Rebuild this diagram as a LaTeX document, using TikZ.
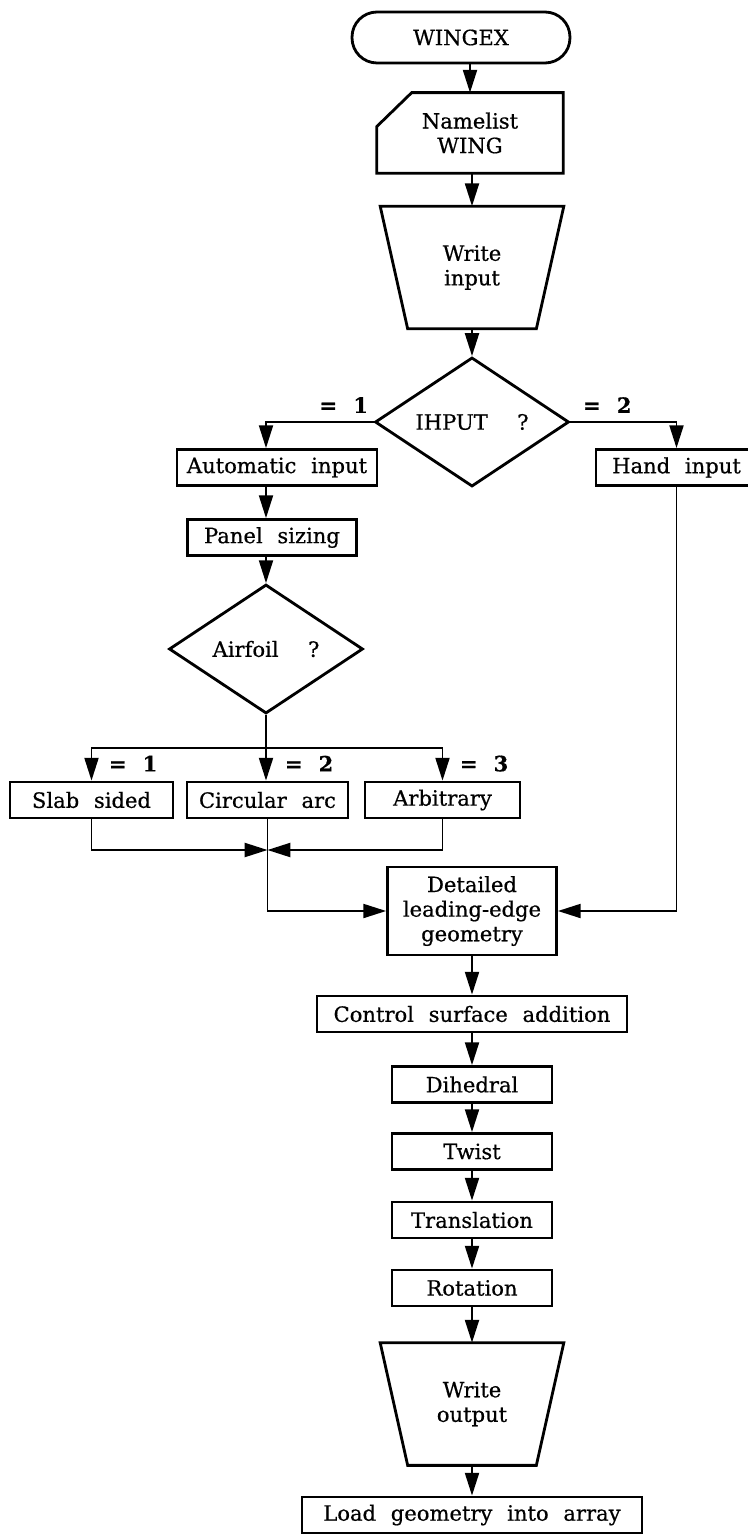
\documentclass[tikz,border=0pt]{standalone}
\usepackage{fontspec}
\setmainfont{DejaVu Serif}[WordSpace=2.2,FakeBold=0.6]
\usetikzlibrary{arrows.meta, positioning, calc, shapes.geometric}

\begin{document}
\begin{tikzpicture}[x=0.02cm,y=-0.02cm,font=\fontsize{12}{14}\selectfont,box/.style={draw,line width=1.6pt,minimum height=0.72cm,inner sep=2pt,align=center},decision/.style={draw,diamond,line width=1.6pt,minimum width=3.88cm,minimum height=2.58cm,inner sep=0pt},branch/.style={font=\fontsize{12}{14}\selectfont\bfseries,inner sep=0pt},arrow/.style={-{Triangle[length=13pt,width=8pt]},line width=1.1pt}]
\useasboundingbox (0,0) rectangle (747,1537);
\node[box,rounded corners=0.5cm,minimum width=4.36cm,minimum height=1.02cm] (wingex) at (461,37.5){WINGEX};
\node[minimum width=3.72cm,minimum height=1.6cm,align=center] (nl) at (470,133){Namelist\\WING};
\draw[line width=1.6pt] (nl.south west) -- ($(nl.north west)+(0,34)$) -- ($(nl.north west)+(35,0)$) -- (nl.north east) -- (nl.south east) -- cycle;
\node[minimum width=3.66cm,minimum height=2.44cm,align=center] (wi) at (472,267.5){Write\\input};
\draw[line width=1.6pt] (wi.north west) -- (wi.north east) -- ($(wi.south east)+(-27.5,0)$) -- ($(wi.south west)+(27.5,0)$) -- cycle;
\node[decision] (ihput) at (472,422){IHPUT\ \ ?};
\node[box,minimum width=4cm] (autoin) at (277,467.5){Automatic input};
\node[box,minimum width=3.22cm] (handin) at (676.5,467.5){Hand input};
\node[box,minimum width=3.38cm] (panel) at (272,537.5){Panel sizing};
\node[decision] (airfoil) at (266,649){Airfoil\ \ ?};
\node[box,minimum width=3.26cm] (slab) at (91.5,800){Slab sided};
\node[box,minimum width=3.22cm] (circ) at (267.5,800){Circular arc};
\node[box,minimum width=3.1cm] (arb) at (442.5,800){Arbitrary};
\node[box,minimum width=3.38cm,minimum height=1.76cm] (detail) at (472,911){Detailed\\leading-edge\\geometry};
\node[box,minimum width=6.2cm] (ctrl) at (472,1014){Control surface addition};
\node[box,minimum width=3.2cm] (dihed) at (472,1084.5){Dihedral};
\node[box,minimum width=3.2cm] (twist) at (472,1151.5){Twist};
\node[box,minimum width=3.2cm] (transl) at (472,1220){Translation};
\node[box,minimum width=3.2cm] (rot) at (472,1288){Rotation};
\node[minimum width=3.66cm,minimum height=2.44cm,align=center] (wo) at (472,1404){Write\\output};
\draw[line width=1.6pt] (wo.north west) -- (wo.north east) -- ($(wo.south east)+(-27.5,0)$) -- ($(wo.south west)+(27.5,0)$) -- cycle;
\node[box,minimum width=6.8cm] (load) at (472,1515){Load geometry into array};
\node[branch,anchor=south east] (b1) at ([xshift=-3pt,yshift=5pt]ihput.west){= 1};
\node[branch,anchor=south west] (b2) at ([xshift=7pt,yshift=5pt]ihput.east){= 2};
\node[branch,anchor=west] (a1) at ($(slab.north)+(17,-17)$){= 1};
\node[branch,anchor=west] (a2) at ($(circ.north)+(17,-17)$){= 2};
\node[branch,anchor=west] (a3) at ($(arb.north)+(17,-17)$){= 3};
\coordinate (bar) at (266,748);
\coordinate (merge) at (267.5,850);
\draw[arrow] (nl.north |- wingex.south) -- (nl.north);\draw[arrow] (wi.north |- nl.south) -- (wi.north);\draw[arrow] (wi.south) -- (ihput.north);
\draw[arrow] (ihput.west) -| (airfoil.north |- autoin.north);\draw[arrow] (ihput.east) -| (handin.north);
\draw[arrow] (airfoil.north |- autoin.south) -- (airfoil.north |- panel.north);\draw[arrow] (airfoil.north |- panel.south) -- (airfoil.north);
\draw[arrow] (airfoil.south) -- (circ.north -| airfoil.south);\draw[arrow] (bar) -| (slab.north);\draw[arrow] (bar) -| (arb.north);
\draw[arrow] (slab.south) |- (merge);\draw[arrow] (arb.south) |- (merge);\draw[arrow] (circ.south) |- (detail.west);\draw[arrow] (handin.south) |- (detail.east);
\draw[arrow] (detail) -- (ctrl);\draw[arrow] (ctrl) -- (dihed);\draw[arrow] (dihed) -- (twist);\draw[arrow] (twist) -- (transl);\draw[arrow] (transl) -- (rot);\draw[arrow] (rot.south) -- (wo.north);\draw[arrow] (wo.south) -- (load.north);
\end{tikzpicture}
\end{document}
